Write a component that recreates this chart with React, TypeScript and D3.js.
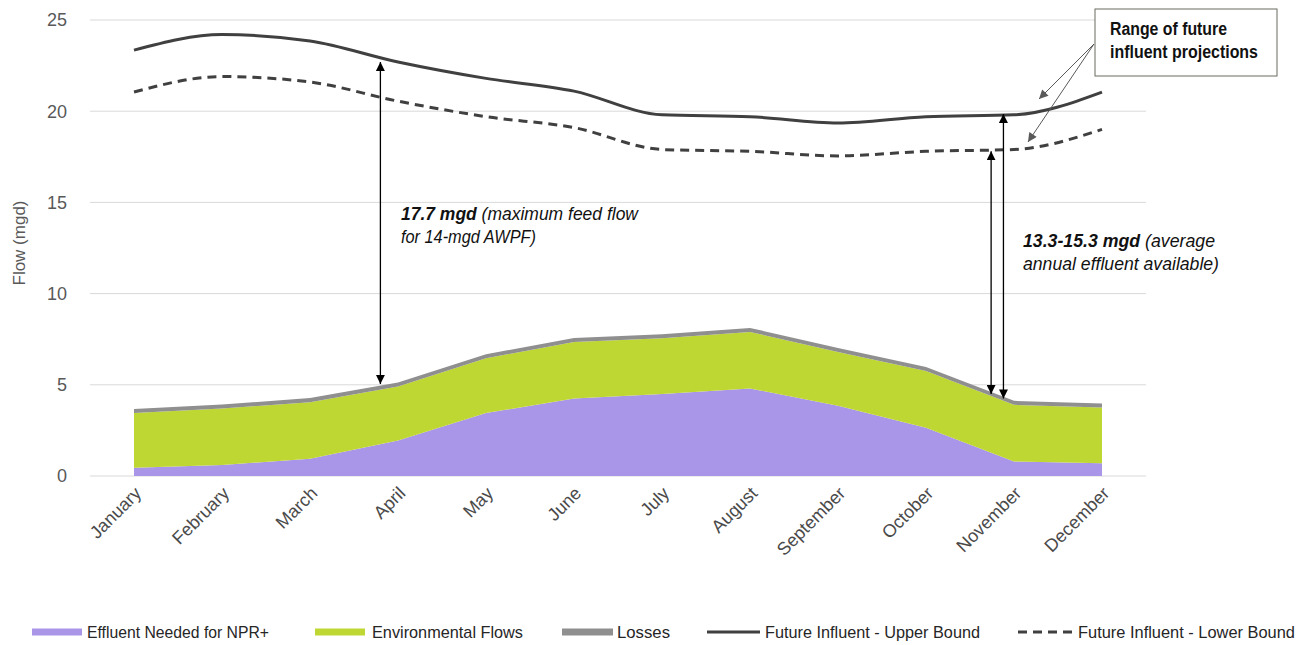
import React from "react";
import * as d3 from "d3";

const months = ["January","February","March","April","May","June","July","August","September","October","November","December"];
const effluentNPR = [0.45, 0.6, 0.95, 1.95, 3.45, 4.25, 4.5, 4.8, 3.85, 2.65, 0.8, 0.7];
const envFlows = [3.0, 3.1, 3.1, 2.95, 3.0, 3.1, 3.05, 3.1, 2.95, 3.1, 3.1, 3.05];
const losses = [0.22, 0.22, 0.22, 0.22, 0.22, 0.22, 0.22, 0.22, 0.22, 0.22, 0.22, 0.22];
const upperBound = [23.35, 24.2, 23.85, 22.7, 21.8, 21.1, 19.8, 19.7, 19.35, 19.7, 19.8, 21.05];
const lowerBound = [21.05, 21.9, 21.6, 20.55, 19.7, 19.1, 17.9, 17.8, 17.55, 17.8, 17.9, 19.0];
const yTicks = [0, 5, 10, 15, 20, 25];

// annotation arrows: [month index position, from value, to value]
const arrows = [
  { pos: 2.8, from: 5.05, to: 22.7 },
  { pos: 9.74, from: 4.5, to: 17.8 },
  { pos: 9.88, from: 4.25, to: 19.85 },
];

const W = 1307, H = 645;
const plotLeft = 90, plotRight = 1146, plotTop = 20, plotBottom = 476;

const COLORS = {
  npr: "#a996e8",
  env: "#bfd733",
  loss: "#8f8f8f",
  line: "#404040",
  grid: "#d9d9d9",
  text: "#595959",
};

export default function App() {
  const x = d3.scaleBand<string>().domain(months).range([plotLeft, plotRight]);
  const cx = (i: number) => plotLeft + x.bandwidth() * (i + 0.5);
  const y = d3.scaleLinear().domain([0, 25]).range([plotBottom, plotTop]);

  const table = months.map((m, i) => ({ month: m, npr: effluentNPR[i], env: envFlows[i], loss: losses[i] }));
  const stack = d3.stack<any>().keys(["npr", "env", "loss"])(table);
  const area = d3.area<any>()
    .x((_d, i) => cx(i))
    .y0((d) => y(d[0]))
    .y1((d) => y(d[1]));
  const fills = [COLORS.npr, COLORS.env, COLORS.loss];

  const line = d3.line<number>()
    .x((_d, i) => cx(i))
    .y((d) => y(d))
    .curve(d3.curveMonotoneX);

  const narrow = "'Liberation Sans Narrow', 'Arial Narrow', sans-serif";
  const sans = "'Liberation Sans', Arial, sans-serif";

  const legend = [
    { label: "Effluent Needed for NPR+", kind: "swatch", color: COLORS.npr, x0: 32, x1: 82, tx: 87, tw: 182 },
    { label: "Environmental Flows", kind: "swatch", color: COLORS.env, x0: 315, x1: 365, tx: 372, tw: 151 },
    { label: "Losses", kind: "swatch", color: COLORS.loss, x0: 562, x1: 613, tx: 617, tw: 53 },
    { label: "Future Influent - Upper Bound", kind: "solid", color: COLORS.line, x0: 707, x1: 760, tx: 765, tw: 215 },
    { label: "Future Influent - Lower Bound", kind: "dash", color: COLORS.line, x0: 1018, x1: 1073, tx: 1078, tw: 217 },
  ];

  return (
    <div style={{ position: "absolute", left: 0, top: 0 }}>
      <svg width={W} height={H} style={{ display: "block", background: "#fff" }}>
        <defs>
          <marker id="ah" viewBox="0 0 10 10" refX="10" refY="5" markerWidth="9" markerHeight="9" markerUnits="userSpaceOnUse" orient="auto-start-reverse">
            <path d="M0,0 L10,5 L0,10 z" fill="#000" />
          </marker>
          <marker id="ahg" viewBox="0 0 10 10" refX="10" refY="5" markerWidth="10" markerHeight="9" markerUnits="userSpaceOnUse" orient="auto">
            <path d="M0,0 L10,5 L0,10 z" fill="#595959" />
          </marker>
        </defs>

        {/* gridlines */}
        {yTicks.map((t) => (
          <line key={t} x1={plotLeft} x2={plotRight} y1={y(t)} y2={y(t)} stroke={COLORS.grid} strokeWidth={1} />
        ))}

        {/* y tick labels */}
        {yTicks.map((t) => (
          <text key={"l" + t} x={67} y={y(t)} dy="0.35em" textAnchor="end" fontFamily={sans} fontSize={18} fill={COLORS.text}>
            {t}
          </text>
        ))}
        <text transform={`translate(25,${243}) rotate(-90)`} textAnchor="middle" fontFamily={sans} fontSize={17} fill={COLORS.text} textLength={85} lengthAdjust="spacingAndGlyphs">
          Flow (mgd)
        </text>

        {/* stacked areas */}
        {stack.map((s, k) => (
          <path key={k} d={area(s as any) || ""} fill={fills[k]} />
        ))}

        {/* influent lines */}
        <path d={line(upperBound) || ""} fill="none" stroke={COLORS.line} strokeWidth={3} />
        <path d={line(lowerBound) || ""} fill="none" stroke={COLORS.line} strokeWidth={3} strokeDasharray="9 6" />

        {/* x labels */}
        {months.map((m, i) => (
          <text key={m} transform={`translate(${cx(i) + 4},${plotBottom + 14}) rotate(-45)`} textAnchor="end" dy="0.35em" fontFamily={sans} fontSize={18} fill="#4a4a4a">
            {m}
          </text>
        ))}

        {/* annotation arrows */}
        {arrows.map((a, i) => {
          const ax = cx(a.pos);
          return (
            <line key={"a" + i} x1={ax} x2={ax} y1={y(a.from)} y2={y(a.to)} stroke="#000" strokeWidth={1.3} markerStart="url(#ah)" markerEnd="url(#ah)" />
          );
        })}

        <text x={401} y={220} fontFamily={narrow} fontSize={18} fontStyle="italic" fill="#111" textLength={237} lengthAdjust="spacingAndGlyphs">
          <tspan fontWeight="bold">17.7 mgd</tspan> (maximum feed flow
        </text>
        <text x={401} y={243} fontFamily={narrow} fontSize={18} fontStyle="italic" fill="#111" textLength={135} lengthAdjust="spacingAndGlyphs">
          for 14-mgd AWPF)
        </text>

        <text x={1023} y={247} fontFamily={narrow} fontSize={18} fontStyle="italic" fill="#111" textLength={192} lengthAdjust="spacingAndGlyphs">
          <tspan fontWeight="bold">13.3-15.3 mgd</tspan> (average
        </text>
        <text x={1023} y={270} fontFamily={narrow} fontSize={18} fontStyle="italic" fill="#111" textLength={196} lengthAdjust="spacingAndGlyphs">
          annual effluent available)
        </text>

        {/* callout box */}
        <rect x={1095} y={9} width={182} height={67} fill="#fff" stroke="#6b6b5e" strokeWidth={1} />
        <text x={1110} y={35} fontFamily={narrow} fontSize={18} fontWeight="bold" fill="#111" textLength={117} lengthAdjust="spacingAndGlyphs">
          Range of future
        </text>
        <text x={1110} y={58} fontFamily={narrow} fontSize={18} fontWeight="bold" fill="#111" textLength={148} lengthAdjust="spacingAndGlyphs">
          influent projections
        </text>
        <line x1={1094} y1={44} x2={1039} y2={99} stroke="#595959" strokeWidth={1} markerEnd="url(#ahg)" />
        <line x1={1094} y1={44} x2={1028} y2={142} stroke="#595959" strokeWidth={1} markerEnd="url(#ahg)" />

        {/* legend */}
        {legend.map((l) => (
          <g key={l.label}>
            {l.kind === "swatch" ? (
              <line x1={l.x0} x2={l.x1} y1={632} y2={632} stroke={l.color} strokeWidth={7} />
            ) : (
              <line x1={l.x0} x2={l.x1} y1={632} y2={632} stroke={l.color} strokeWidth={3} strokeDasharray={l.kind === "dash" ? "9 6" : undefined} />
            )}
            <text x={l.tx} y={638} fontFamily={narrow} fontSize={17} fill="#262626" textLength={l.tw} lengthAdjust="spacingAndGlyphs">
              {l.label}
            </text>
          </g>
        ))}
      </svg>
    </div>
  );
}
